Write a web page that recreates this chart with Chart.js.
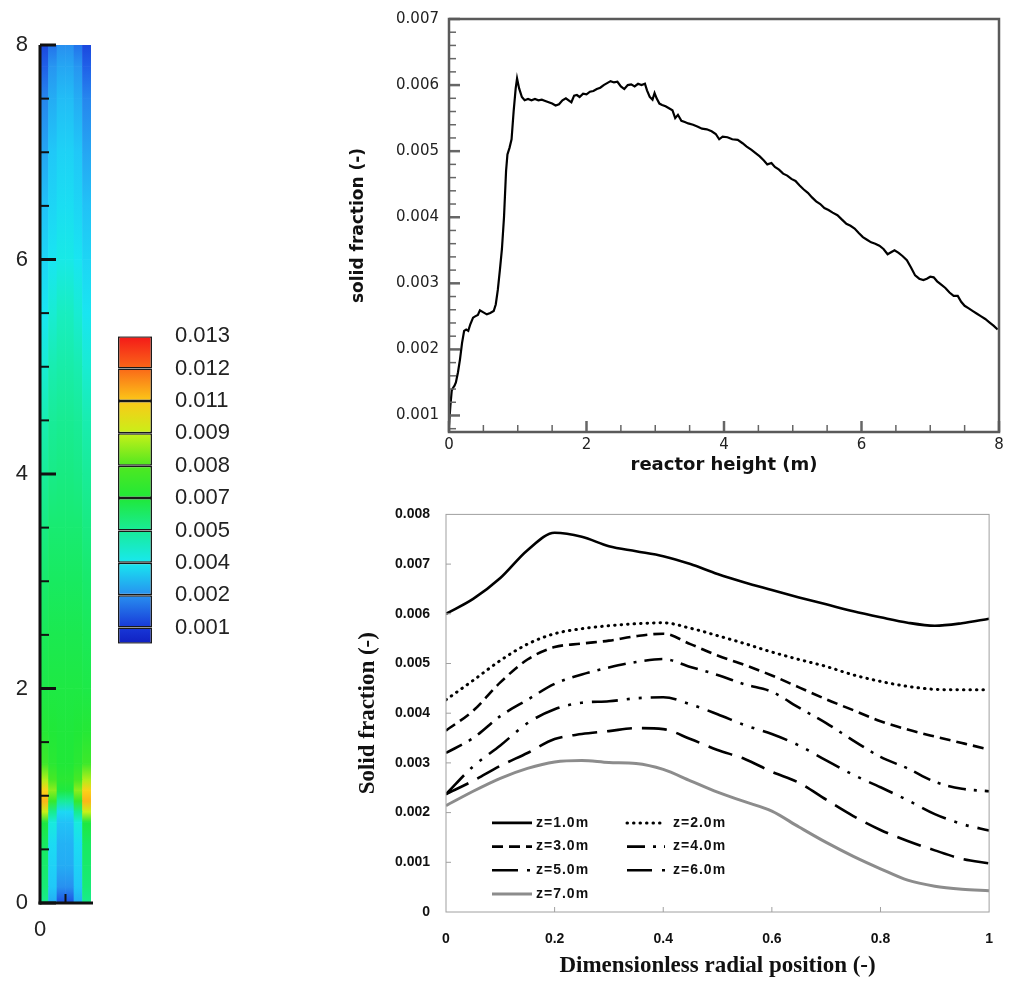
<!DOCTYPE html>
<html>
<head>
<meta charset="utf-8">
<title>Solid fraction in the riser</title>
<script src="https://cdn.jsdelivr.net/npm/chart.js@4.4.1/dist/chart.umd.min.js"></script>
<style>
  body { margin: 0; background: #fff; width: 1012px; height: 985px; position: relative; overflow: hidden; }
  canvas { position: absolute; }
</style>
</head>
<body>
<canvas id="field" width="112" height="960" style="left:0;top:0"></canvas>
<canvas id="cbar" width="160" height="380" style="left:110px;top:300px"></canvas>
<canvas id="profile" width="672" height="490" style="left:340px;top:0"></canvas>
<canvas id="radial" width="672" height="495" style="left:340px;top:490px"></canvas>
<script>
// ---- contour field (left) : solid fraction at heights (m), 6 radial columns
var fieldCols = ['r1', 'r2', 'r3', 'r4', 'r5', 'r6'];
var fieldHeights = [0, 0.15, 0.35, 0.55, 0.75, 0.85, 0.95, 1.05, 1.15, 1.3, 1.6, 2.0, 2.5,
                    3.0, 3.5, 4.0, 4.5, 5.0, 5.5, 6.0, 6.5, 7.0, 7.5, 7.8, 8.0];
var fieldValues = [
  [0.0052, 0.0025, 0.0013, 0.0013, 0.0025, 0.0052],
  [0.0056, 0.0030, 0.0020, 0.0020, 0.0030, 0.0056],
  [0.0058, 0.0033, 0.0025, 0.0025, 0.0033, 0.0058],
  [0.0060, 0.0036, 0.0026, 0.0026, 0.0036, 0.0060],
  [0.0068, 0.0042, 0.0029, 0.0029, 0.0042, 0.0068],
  [0.0090, 0.0052, 0.0035, 0.0035, 0.0052, 0.0090],
  [0.0112, 0.0075, 0.0050, 0.0050, 0.0075, 0.0112],
  [0.0108, 0.0085, 0.0068, 0.0068, 0.0085, 0.0108],
  [0.0088, 0.0078, 0.0072, 0.0072, 0.0078, 0.0088],
  [0.0076, 0.0072, 0.0070, 0.0070, 0.0072, 0.0076],
  [0.0071, 0.0070, 0.0069, 0.0069, 0.0070, 0.0071],
  [0.0066, 0.0067, 0.0067, 0.0067, 0.0067, 0.0066],
  [0.0062, 0.0064, 0.0064, 0.0064, 0.0064, 0.0062],
  [0.0058, 0.0060, 0.0060, 0.0060, 0.0060, 0.0058],
  [0.0054, 0.0057, 0.0057, 0.0057, 0.0057, 0.0054],
  [0.0050, 0.0053, 0.0054, 0.0054, 0.0053, 0.0050],
  [0.0047, 0.0050, 0.0051, 0.0051, 0.0050, 0.0047],
  [0.0043, 0.0047, 0.0048, 0.0048, 0.0047, 0.0043],
  [0.0039, 0.0043, 0.0045, 0.0045, 0.0043, 0.0039],
  [0.0034, 0.0039, 0.0041, 0.0041, 0.0039, 0.0034],
  [0.0029, 0.0034, 0.0037, 0.0037, 0.0034, 0.0029],
  [0.0024, 0.0030, 0.0033, 0.0033, 0.0030, 0.0024],
  [0.0019, 0.0025, 0.0028, 0.0028, 0.0025, 0.0019],
  [0.0015, 0.0021, 0.0024, 0.0024, 0.0021, 0.0015],
  [0.0012, 0.0017, 0.0020, 0.0020, 0.0017, 0.0012]
];
var fieldYTicks = [0, 2, 4, 6, 8];

// ---- colour bar
var cbarEdges = [0.0005, 0.001, 0.002, 0.004, 0.005, 0.007, 0.008, 0.009, 0.011, 0.012, 0.013];
var cbarLabels = ['0.001', '0.002', '0.004', '0.005', '0.007', '0.008', '0.009', '0.011', '0.012', '0.013'];

// ---- axial profile (top right)
var topHeight = [0, 0.02, 0.04, 0.06, 0.08, 0.10, 0.13, 0.16, 0.19, 0.22, 0.25, 0.28, 0.31, 0.35, 0.38,
  0.42, 0.45, 0.50, 0.55, 0.60, 0.65, 0.68, 0.71, 0.74, 0.77, 0.80, 0.83, 0.85, 0.88, 0.91, 0.94, 0.97,
  0.99, 1.02, 1.06, 1.10, 1.15, 1.20, 1.25, 1.30, 1.35, 1.40, 1.45, 1.50, 1.55, 1.60, 1.65, 1.70, 1.75,
  1.78, 1.82, 1.86, 1.90, 1.95, 2.00, 2.05, 2.10, 2.15, 2.20, 2.25, 2.30, 2.35, 2.40, 2.45, 2.50, 2.55,
  2.60, 2.65, 2.70, 2.75, 2.80, 2.85, 2.88, 2.92, 2.96, 2.99, 3.02, 3.06, 3.10, 3.15, 3.20, 3.25, 3.29,
  3.33, 3.38, 3.43, 3.48, 3.55, 3.62, 3.68, 3.75, 3.82, 3.88, 3.93, 3.98, 4.05, 4.12, 4.20, 4.27, 4.33,
  4.40, 4.46, 4.52, 4.58, 4.63, 4.69, 4.74, 4.80, 4.86, 4.92, 4.98, 5.04, 5.10, 5.16, 5.22, 5.28, 5.34,
  5.40, 5.46, 5.52, 5.58, 5.65, 5.72, 5.78, 5.84, 5.90, 5.96, 6.02, 6.08, 6.14, 6.20, 6.26, 6.32, 6.38,
  6.43, 6.48, 6.54, 6.60, 6.66, 6.72, 6.78, 6.84, 6.90, 6.95, 7.00, 7.05, 7.10, 7.16, 7.22, 7.28, 7.34,
  7.40, 7.45, 7.50, 7.56, 7.62, 7.68, 7.74, 7.80, 7.86, 7.92, 7.98];
var topFraction = [0.00085, 0.00115, 0.00138, 0.00142, 0.00145, 0.00150, 0.00165, 0.00185, 0.00210,
  0.00228, 0.00230, 0.00228, 0.00238, 0.00248, 0.00250, 0.00252, 0.00259, 0.00256, 0.00253, 0.00255,
  0.00258, 0.00268, 0.00290, 0.00320, 0.00352, 0.00400, 0.00470, 0.00495, 0.00505, 0.00518, 0.00560,
  0.00595, 0.00610, 0.00595, 0.00582, 0.00577, 0.00579, 0.00577, 0.00579, 0.00577, 0.00578, 0.00576,
  0.00574, 0.00572, 0.00569, 0.00571, 0.00577, 0.00580, 0.00576, 0.00574, 0.00584, 0.00585, 0.00582,
  0.00587, 0.00586, 0.00590, 0.00591, 0.00594, 0.00596, 0.00600, 0.00603, 0.00606, 0.00604, 0.00605,
  0.00598, 0.00594, 0.00600, 0.00601, 0.00598, 0.00602, 0.00600, 0.00602, 0.00592, 0.00582, 0.00578,
  0.00588, 0.00580, 0.00572, 0.00570, 0.00568, 0.00565, 0.00562, 0.00550, 0.00555, 0.00546, 0.00544,
  0.00542, 0.00540, 0.00537, 0.00534, 0.00533, 0.00530, 0.00526, 0.00518, 0.00522, 0.00521, 0.00518,
  0.00517, 0.00512, 0.00507, 0.00502, 0.00497, 0.00492, 0.00486, 0.00480, 0.00482, 0.00476, 0.00472,
  0.00466, 0.00463, 0.00458, 0.00455, 0.00448, 0.00442, 0.00437, 0.00430, 0.00424, 0.00420, 0.00414,
  0.00411, 0.00407, 0.00403, 0.00396, 0.00390, 0.00387, 0.00383, 0.00376, 0.00370, 0.00366, 0.00362,
  0.00360, 0.00357, 0.00352, 0.00344, 0.00347, 0.00350, 0.00346, 0.00341, 0.00335, 0.00324, 0.00312,
  0.00307, 0.00305, 0.00307, 0.00310, 0.00309, 0.00303, 0.00298, 0.00293, 0.00286, 0.00281, 0.00281,
  0.00272, 0.00266, 0.00262, 0.00258, 0.00254, 0.00250, 0.00246, 0.00241, 0.00236, 0.00230];
var topXTicks = [0, 2, 4, 6, 8];
var topYTicks = [0.001, 0.002, 0.003, 0.004, 0.005, 0.006, 0.007];

// ---- radial profiles (bottom right)
var radialPos = [0, 0.05, 0.1, 0.15, 0.2, 0.25, 0.3, 0.35, 0.4, 0.45, 0.5, 0.55, 0.6, 0.65, 0.7,
                 0.75, 0.8, 0.85, 0.9, 0.95, 1];
var zLabels = ['z=1.0m', 'z=2.0m', 'z=3.0m', 'z=4.0m', 'z=5.0m', 'z=6.0m', 'z=7.0m'];
var z1 = [0.0060, 0.00630, 0.00672, 0.00728, 0.00763, 0.00755, 0.00736, 0.00726, 0.00716, 0.00700, 0.00680,
          0.00663, 0.00648, 0.00633, 0.00619, 0.00605, 0.00593, 0.00582, 0.00576, 0.00581, 0.00590];
var z2 = [0.00427, 0.00466, 0.00506, 0.00539, 0.00560, 0.00570, 0.00576, 0.00580, 0.00582, 0.00571, 0.00556,
          0.00540, 0.00523, 0.00508, 0.00494, 0.00477, 0.00464, 0.00454, 0.00448, 0.00447, 0.00447];
var z3 = [0.00365, 0.00405, 0.00462, 0.00508, 0.00533, 0.00540, 0.00546, 0.00555, 0.00560, 0.00539, 0.00516,
          0.00497, 0.00476, 0.00452, 0.00428, 0.00406, 0.00384, 0.00367, 0.00353, 0.00340, 0.00327];
var z4 = [0.00320, 0.00350, 0.00394, 0.00427, 0.00459, 0.00478, 0.00492, 0.00503, 0.00509, 0.00493, 0.00477,
          0.00458, 0.00443, 0.00411, 0.00380, 0.00345, 0.00312, 0.00289, 0.00262, 0.00248, 0.00243];
var z5 = [0.00237, 0.00293, 0.00335, 0.00380, 0.00408, 0.00421, 0.00424, 0.00430, 0.00432, 0.00418, 0.00398,
          0.00376, 0.00358, 0.00335, 0.00305, 0.00276, 0.00251, 0.00225, 0.00197, 0.00177, 0.00164];
var z6 = [0.00237, 0.00264, 0.00294, 0.00320, 0.00348, 0.00358, 0.00364, 0.00370, 0.00368, 0.00348, 0.00326,
          0.00308, 0.00282, 0.00260, 0.00226, 0.00193, 0.00165, 0.00143, 0.00124, 0.00107, 0.00098];
var z7 = [0.00214, 0.00243, 0.00269, 0.00289, 0.00302, 0.00305, 0.00301, 0.00299, 0.00287, 0.00264, 0.00241,
          0.00222, 0.00203, 0.00171, 0.00140, 0.00112, 0.00087, 0.00064, 0.00052, 0.00046, 0.00043];
var radialXTicks = [0, 0.2, 0.4, 0.6, 0.8, 1];
var radialYTicks = [0, 0.001, 0.002, 0.003, 0.004, 0.005, 0.006, 0.007, 0.008];

// ---- colour map (jet-like)
var cmapStops = [
  [0.0005, '#1020c0'], [0.0010, '#1838d8'], [0.0015, '#2060e8'], [0.0020, '#2890f0'],
  [0.0030, '#20c8f8'], [0.0040, '#18e8f0'], [0.0045, '#18eec0'], [0.0050, '#18ec98'],
  [0.0060, '#18ea60'], [0.0070, '#20e838'], [0.0080, '#50e820'], [0.0090, '#c8f018'],
  [0.0100, '#fcf418'], [0.0110, '#fcc818'], [0.0115, '#fc9818'], [0.0120, '#fa6818'],
  [0.0130, '#f41818']
];
function hexRgb(h) {
  return [parseInt(h.substr(1, 2), 16), parseInt(h.substr(3, 2), 16), parseInt(h.substr(5, 2), 16)];
}
function cmap(v) {
  if (v <= cmapStops[0][0]) return cmapStops[0][1];
  for (var i = 1; i < cmapStops.length; i++) {
    if (v <= cmapStops[i][0]) {
      var a = hexRgb(cmapStops[i - 1][1]), b = hexRgb(cmapStops[i][1]);
      var t = (v - cmapStops[i - 1][0]) / (cmapStops[i][0] - cmapStops[i - 1][0]);
      return 'rgb(' + [0, 1, 2].map(function (k) { return Math.round(a[k] + (b[k] - a[k]) * t); }).join(',') + ')';
    }
  }
  return cmapStops[cmapStops.length - 1][1];
}

// inward tick marks + axis lines / frame
function tickMarks(o) {
  return {
    id: 'tickMarks',
    afterDraw: function (chart) {
      var ctx = chart.ctx, a = chart.chartArea;
      var xs = chart.scales[o.xId || 'x'], ys = chart.scales.y;
      ctx.save();
      ctx.strokeStyle = o.color;
      ctx.setLineDash([]);
      function seg(x1, y1, x2, y2, w) {
        ctx.lineWidth = w; ctx.beginPath(); ctx.moveTo(x1, y1); ctx.lineTo(x2, y2); ctx.stroke();
      }
      (o.yMajor || []).forEach(function (v) { var p = ys.getPixelForValue(v); seg(a.left, p, a.left + o.majorLen, p, o.majorW); });
      (o.yMinor || []).forEach(function (v) { var p = ys.getPixelForValue(v); seg(a.left, p, a.left + o.minorLen, p, o.minorW); });
      (o.xMajor || []).forEach(function (v) { var p = xs.getPixelForValue(v); seg(p, a.bottom, p, a.bottom - o.majorLen, o.majorW); });
      (o.xMinor || []).forEach(function (v) { var p = xs.getPixelForValue(v); seg(p, a.bottom, p, a.bottom - o.minorLen, o.minorW); });
      ctx.strokeStyle = o.frameColor || o.color;
      if (o.frame) {
        ctx.lineWidth = o.frameW;
        ctx.strokeRect(a.left, a.top, a.right - a.left, a.bottom - a.top);
      } else {
        seg(a.left, a.top, a.left, a.bottom + o.frameW / 2, o.frameW);
        seg(a.left - o.frameW / 2, a.bottom, a.right + 2, a.bottom, o.frameW);
      }
      ctx.restore();
    }
  };
}
function fixTicks(list) {
  return function (s) { s.ticks = list.map(function (v) { return { value: v }; }); };
}

// ---------------- left: contour column
function cellColor(c) {
  if (c.dataIndex === undefined || c.datasetIndex === undefined) return '#20e060';
  var row = c.datasetIndex, col = c.dataIndex, chart = c.chart, ys = chart.scales.y;
  var lo = fieldValues[row][col], hi = fieldValues[row + 1][col];
  if (!chart.chartArea || !ys) return cmap((lo + hi) / 2);
  var g = chart.ctx.createLinearGradient(0, ys.getPixelForValue(fieldHeights[row]), 0, ys.getPixelForValue(fieldHeights[row + 1]));
  g.addColorStop(0, cmap(lo));
  g.addColorStop(1, cmap(hi));
  return g;
}
var fieldSets = [];
for (var r = 0; r < fieldHeights.length - 1; r++) {
  fieldSets.push({
    data: fieldCols.map(function () { return [fieldHeights[r], fieldHeights[r + 1]]; }),
    backgroundColor: cellColor,
    borderWidth: 0,
    grouped: false,
    barPercentage: 1,
    categoryPercentage: 1
  });
}
var fieldMinor = [];
for (var i = 1; i < 16; i++) if (i % 4) fieldMinor.push(i * 0.5);

new Chart(document.getElementById('field'), {
  type: 'bar',
  data: { labels: fieldCols, datasets: fieldSets },
  options: {
    responsive: false, animation: false,
    layout: { padding: { top: 45, right: 21, left: 0, bottom: 0 } },
    plugins: { legend: { display: false }, tooltip: { enabled: false } },
    scales: {
      x: { type: 'category', display: false },
      xr: {
        type: 'linear', position: 'bottom', min: 0, max: 0.5, offset: false,
        afterBuildTicks: fixTicks([0]), afterFit: function (s) { s.height = 57; },
        grid: { display: false, drawTicks: false, offset: false }, border: { display: false },
        ticks: { font: { family: '"Liberation Sans", Arial, sans-serif', size: 22 }, color: '#222', padding: 14 }
      },
      y: {
        type: 'linear', min: 0, max: 8,
        afterBuildTicks: fixTicks(fieldYTicks), afterFit: function (s) { s.width = 40; },
        grid: { display: false, drawTicks: false }, border: { display: false },
        ticks: { font: { family: '"Liberation Sans", Arial, sans-serif', size: 22 }, color: '#222', padding: 12 }
      }
    }
  },
  plugins: [tickMarks({ xId: 'xr', color: '#111', yMajor: fieldYTicks, yMinor: fieldMinor, xMinor: [0.25],
    majorLen: 16, minorLen: 9, majorW: 3, minorW: 2, frame: false, frameW: 3 })]
});

// ---------------- colour bar
function bandColor(c) {
  var k = c.datasetIndex, chart = c.chart, ys = chart.scales.y;
  if (k === undefined) return '#20e060';
  var lo = cbarEdges[k], hi = cbarEdges[k + 1];
  if (!chart.chartArea || !ys) return cmap((lo + hi) / 2);
  var g = chart.ctx.createLinearGradient(0, ys.getPixelForValue(k === 0 ? 0.5 : k), 0, ys.getPixelForValue(k + 1));
  g.addColorStop(0, cmap(lo));
  g.addColorStop(1, cmap(hi));
  return g;
}
var bandSets = [];
for (var k = 0; k < cbarLabels.length; k++) {
  bandSets.push({
    data: [[k === 0 ? 0.5 : k, k + 1]],
    backgroundColor: bandColor,
    borderColor: '#1a1a1a', borderWidth: 1.5, borderSkipped: false, inflateAmount: 0,
    grouped: false, barPercentage: 1, categoryPercentage: 1
  });
}
new Chart(document.getElementById('cbar'), {
  type: 'bar',
  data: { labels: ['bar'], datasets: bandSets },
  options: {
    responsive: false, animation: false,
    layout: { padding: { top: 30, left: 8, bottom: 32, right: 0 } },
    plugins: { legend: { display: false }, tooltip: { enabled: false } },
    scales: {
      x: { display: false },
      y: {
        position: 'right', type: 'linear', min: 0.5, max: 10,
        afterBuildTicks: fixTicks([1, 2, 3, 4, 5, 6, 7, 8, 9, 10]),
        afterFit: function (s) { s.width = 118; },
        grid: { display: false, drawTicks: false }, border: { display: false },
        ticks: {
          font: { family: '"Liberation Sans", Arial, sans-serif', size: 22 }, color: '#222', padding: 23,
          callback: function (v) { return cbarLabels[v - 1]; }
        }
      }
    }
  }
});

// ---------------- top right: axial profile
var topYMinor = [], topXMinor = [];
for (var i = 4; i <= 35; i++) if (i % 5) topYMinor.push(i * 0.0002);
for (var i = 1; i < 16; i++) if (i % 4) topXMinor.push(i * 0.5);

new Chart(document.getElementById('profile'), {
  type: 'line',
  data: {
    datasets: [{
      data: topHeight.map(function (h, i) { return { x: h, y: topFraction[i] }; }),
      borderColor: '#000', borderWidth: 2.2, pointRadius: 0, tension: 0
    }]
  },
  options: {
    responsive: false, animation: false,
    layout: { padding: { top: 18, right: 13, left: 0, bottom: 0 } },
    plugins: { legend: { display: false }, tooltip: { enabled: false } },
    scales: {
      x: {
        type: 'linear', min: 0, max: 8,
        afterBuildTicks: fixTicks(topXTicks), afterFit: function (s) { s.height = 58; },
        grid: { display: false, drawTicks: false }, border: { display: false },
        ticks: { font: { family: '"DejaVu Sans", sans-serif', size: 15 }, color: '#222', padding: 4, maxRotation: 0 },
        title: { display: true, text: 'reactor height (m)', color: '#111',
          font: { family: '"DejaVu Sans", sans-serif', size: 18, weight: 'bold' }, padding: { top: 0, bottom: 14 } }
      },
      y: {
        type: 'linear', min: 0.00075, max: 0.007,
        afterBuildTicks: fixTicks(topYTicks), afterFit: function (s) { s.width = 109; },
        grid: { display: false, drawTicks: false }, border: { display: false },
        ticks: { font: { family: '"DejaVu Sans", sans-serif', size: 15 }, color: '#222', padding: 10,
          callback: function (v) { return v.toFixed(3); } },
        title: { display: true, text: 'solid fraction (-)', color: '#111',
          font: { family: '"DejaVu Sans", sans-serif', size: 17, weight: 'bold' }, padding: { top: 8, bottom: 0 } }
      }
    }
  },
  plugins: [tickMarks({ color: '#666', frameColor: '#5a5a5a', yMajor: topYTicks, yMinor: topYMinor,
    xMajor: topXTicks, xMinor: topXMinor, majorLen: 11, minorLen: 7, majorW: 2.5, minorW: 1.5, frame: true, frameW: 2.5 })]
});

// ---------------- bottom right: radial profiles
var zSeries = [z1, z2, z3, z4, z5, z6, z7];
var zStyles = [
  { color: '#000', width: 2.6, dash: [], cap: 'butt' },
  { color: '#000', width: 3, dash: [0.5, 6], cap: 'round' },
  { color: '#000', width: 2.6, dash: [11, 6], cap: 'butt' },
  { color: '#000', width: 2.6, dash: [18, 8, 3, 8], cap: 'butt' },
  { color: '#000', width: 2.6, dash: [26, 9, 3, 9, 3, 9], cap: 'butt' },
  { color: '#000', width: 2.6, dash: [25, 10], cap: 'butt' },
  { color: '#8c8c8c', width: 3, dash: [], cap: 'butt' }
];
var radialSets = zSeries.map(function (s, i) {
  return {
    label: zLabels[i],
    data: radialPos.map(function (x, j) { return { x: x, y: s[j] }; }),
    borderColor: zStyles[i].color, borderWidth: zStyles[i].width, borderDash: zStyles[i].dash,
    borderCapStyle: zStyles[i].cap, pointRadius: 0, cubicInterpolationMode: 'monotone'
  };
});
var zLegend = {
  id: 'zLegend',
  afterDatasetsDraw: function (chart) {
    var ctx = chart.ctx, a = chart.chartArea;
    ctx.save();
    ctx.font = 'bold 14px "Liberation Sans", Arial, sans-serif';
    ctx.letterSpacing = '1px';
    ctx.fillStyle = '#111';
    ctx.textBaseline = 'middle';
    chart.data.datasets.forEach(function (ds, i) {
      var col = i % 2, row = Math.floor(i / 2);
      var y = a.top + 308.5 + row * 23.7;
      var x0 = a.left + (col ? 181 : 46), len = col ? 38 : 40;
      ctx.strokeStyle = ds.borderColor;
      ctx.lineWidth = ds.borderWidth;
      ctx.setLineDash(ds.borderDash);
      ctx.lineCap = ds.borderCapStyle;
      ctx.beginPath(); ctx.moveTo(x0, y); ctx.lineTo(x0 + len, y); ctx.stroke();
      ctx.fillText(ds.label, x0 + len + (col ? 8 : 4), y);
    });
    ctx.restore();
  }
};
new Chart(document.getElementById('radial'), {
  type: 'line',
  data: { datasets: radialSets },
  options: {
    responsive: false, animation: false,
    layout: { padding: { top: 17, right: 5, left: 0, bottom: 0 } },
    plugins: { legend: { display: false }, tooltip: { enabled: false } },
    scales: {
      x: {
        type: 'linear', min: 0, max: 1,
        afterBuildTicks: fixTicks(radialXTicks), afterFit: function (s) { s.height = 73; },
        grid: { display: false, drawTicks: false }, border: { display: false },
        ticks: { font: { family: '"Liberation Sans", Arial, sans-serif', size: 14, weight: 'bold' }, color: '#111',
          padding: 19, maxRotation: 0, callback: function (v) { return String(Math.round(v * 10) / 10); } },
        title: { display: true, text: 'Dimensionless radial position (-)', color: '#111',
          font: { family: '"Liberation Serif", "Times New Roman", serif', size: 23, weight: 'bold' }, padding: { top: 0, bottom: 5 } }
      },
      y: {
        type: 'linear', min: 0, max: 0.008,
        afterBuildTicks: fixTicks(radialYTicks), afterFit: function (s) { s.width = 106; },
        grid: { display: false, drawTicks: false }, border: { display: false },
        ticks: { font: { family: '"Liberation Sans", Arial, sans-serif', size: 14, weight: 'bold' }, color: '#111',
          padding: 16, callback: function (v) { return v === 0 ? '0' : v.toFixed(3); } },
        title: { display: true, text: 'Solid fraction (-)', color: '#111',
          font: { family: '"Liberation Serif", "Times New Roman", serif', size: 23, weight: 'bold' }, padding: { top: 14, bottom: 0 } }
      }
    }
  },
  plugins: [zLegend, tickMarks({ color: '#a0a0a0', yMajor: radialYTicks.slice(1, 8), xMajor: radialXTicks.slice(1, 5),
    majorLen: 5, majorW: 1, frame: true, frameW: 1 })]
});
</script>
</body>
</html>
